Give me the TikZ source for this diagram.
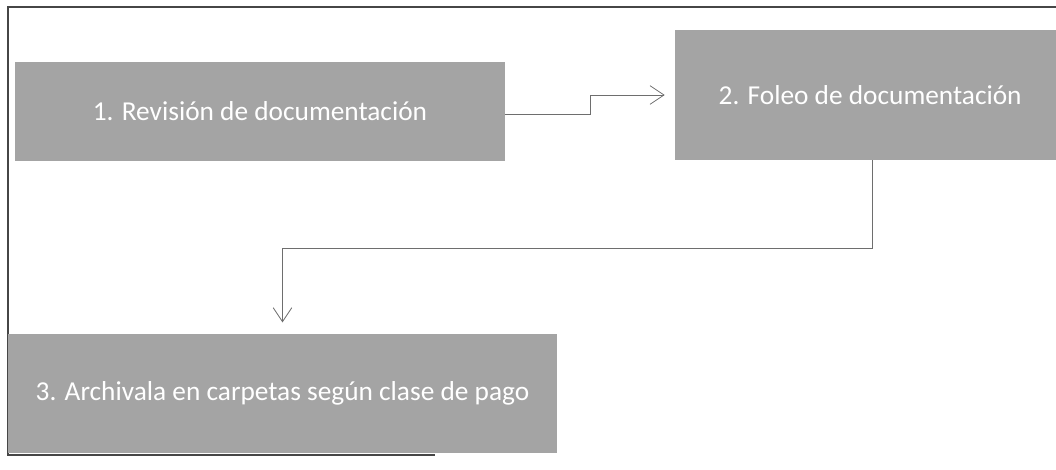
\documentclass[tikz,border=0pt]{standalone}
\usepackage{fontspec}
\setmainfont{Carlito}
\usetikzlibrary{arrows.meta}
\definecolor{boxgray}{RGB}{164,164,164}
\definecolor{framegray}{RGB}{70,70,70}
\definecolor{conngray}{RGB}{110,110,110}
\tikzset{
  stepbox/.style={draw=none, fill=boxgray, text=white, inner sep=0pt,
    font=\fontsize{20.5}{24}\selectfont},
  conn/.style={draw=conngray, line width=0.6pt,
    -{Straight Barb[length=10.5pt,width=14pt,line width=0.6pt]}},
  frameline/.style={draw=framegray, line width=1.1pt}
}
\begin{document}
\begin{tikzpicture}[x=0.75pt,y=-0.75pt]
\useasboundingbox (0,0) rectangle (1056,470);
% frame
\draw[frameline] (1056,7) -- (8,7) -- (8,455) -- (435,455);
% boxes
\node[stepbox, minimum width=367.5pt, minimum height=74.25pt] (b1) at (260,111.5) {1. Revisión de documentación};
\node[stepbox, minimum width=285.75pt, minimum height=97.5pt] (b2) at (865.5,95) {\hspace*{7pt}2. Foleo de documentación};
\node[stepbox, minimum width=411.75pt, minimum height=89.25pt] (b3) at (282.5,393.5) {3. Archivala en carpetas según clase de pago};
% connectors
\draw[conn, shorten >=7.5pt] ([yshift=-2.5pt]b1.east) -- ++(85,0) |- (b2.west);
\draw[conn, shorten >=8.5pt] ([xshift=5pt]b2.south) -- ++(0,88) -| (b3.north);
\end{tikzpicture}
\end{document}
